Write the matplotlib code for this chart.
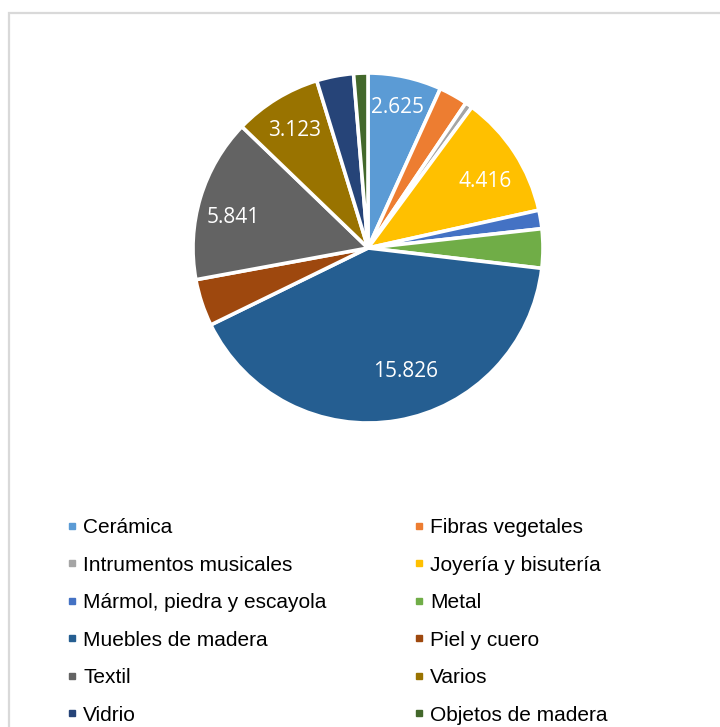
import matplotlib.pyplot as plt
from matplotlib.lines import Line2D
from matplotlib.patches import Rectangle
import numpy as np

# Categorías y valores
categorias = ['Cerámica', 'Fibras vegetales', 'Intrumentos musicales',
              'Joyería y bisutería', 'Mármol, piedra y escayola', 'Metal',
              'Muebles de madera', 'Piel y cuero', 'Textil', 'Varios',
              'Vidrio', 'Objetos de madera']
valores = [2.625, 1.03, 0.26, 4.416, 0.66, 1.40, 15.826, 1.68, 5.841,
           3.123, 1.32, 0.51]
# solo algunas porciones llevan etiqueta
etiquetas = ['2.625', '', '', '4.416', '', '', '15.826', '', '5.841',
             '3.123', '', '']
colores = ['#5B9BD5', '#ED7D31', '#A5A5A5', '#FFC000', '#4472C4', '#70AD47',
           '#255E91', '#9E480E', '#636363', '#997300', '#264478', '#43682B']

# colocación de cada etiqueta: fracción del arco y distancia al centro
pos_etiquetas = {0: (0.48, 0.82), 3: (0.59, 0.77), 6: (0.45, 0.74),
                 8: (0.43, 0.79), 9: (0.48, 0.79)}

W, H = 720, 727
fig = plt.figure(figsize=(W / 100, H / 100), dpi=100)

# marco gris del área del gráfico
fig.patches.append(Rectangle((9 / W, -0.1), 1.2, 1 - 13 / H + 0.1,
                             transform=fig.transFigure, fill=False,
                             edgecolor='#d9d9d9', linewidth=1.6))

cx, cy, r = 368, 248, 175
ax = fig.add_axes([(cx - r) / W, 1 - (cy + r) / H, 2 * r / W, 2 * r / H])
wedges, _ = ax.pie(valores, colors=colores, startangle=90, counterclock=False,
                   wedgeprops=dict(edgecolor='white', linewidth=2.6))
ax.set_xlim(-1, 1)
ax.set_ylim(-1, 1)
ax.set_aspect('equal')

# etiquetas de datos dentro de las porciones (sentido horario: theta2 -> theta1)
for i, (w, txt) in enumerate(zip(wedges, etiquetas)):
    if not txt:
        continue
    frac, dist = pos_etiquetas.get(i, (0.5, 0.79))
    ang = np.deg2rad(w.theta2 - frac * (w.theta2 - w.theta1))
    ax.text(dist * np.cos(ang), dist * np.sin(ang), txt, color='white',
            fontsize=15, family='Open Sans', ha='center', va='center')

# leyenda en dos columnas, ordenada por filas
marcas = [Line2D([], [], linestyle='none', marker='s', markersize=4.2,
                 markerfacecolor=c, markeredgecolor=c) for c in colores]
orden = list(range(0, 12, 2)) + list(range(1, 12, 2))
fig.legend([marcas[i] for i in orden], [categorias[i] for i in orden],
           ncol=2, loc='upper left', bbox_to_anchor=(67 / W, 1 - 518 / H),
           frameon=False, prop=dict(family='Liberation Sans', size=15),
           handlelength=0.5, handletextpad=0.28, labelspacing=0.89,
           columnspacing=4.17, borderaxespad=0, borderpad=0)

fig.savefig('out.png', dpi=100, facecolor='white')
